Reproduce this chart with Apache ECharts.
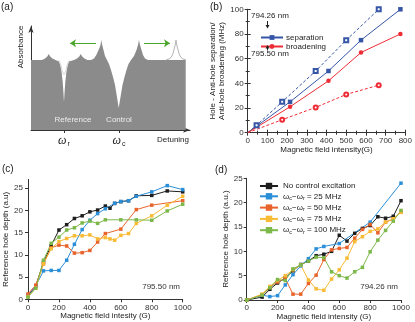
<!DOCTYPE html>
<html>
<head>
<meta charset="utf-8">
<script src="https://cdn.jsdelivr.net/npm/echarts@6/dist/echarts.min.js"></script>
<style>
html, body { margin: 0; padding: 0; background: #fff; }
#chart { width: 415px; height: 322px; }
</style>
</head>
<body>
<div id="chart"></div>
<script>
// (a) schematic absorption profile [detuning, absorbance]
const absProfile = [
  [31, 70], [42, 70], [45, 71.5], [47.3, 73.5], [48.7, 76], [50.2, 73.5], [52.5, 71.5], [55.5, 70],
  [57, 70], [59, 68.5], [60.5, 64], [61.7, 57], [62.7, 48], [63.4, 38], [64, 28], [64.6, 38], [65.3, 48], [66.3, 57], [67.5, 64], [69, 68.5], [71, 70],
  [74, 70], [77, 71.5], [79.3, 73.5], [80.7, 76], [82.2, 73.5], [84.5, 71.5], [87.5, 70],
  [91, 70], [94, 71.5], [96.3, 75], [99, 81], [100.5, 85], [101.3, 90], [102.2, 85], [103.5, 80], [105, 74], [107, 70],
  [109, 66], [111, 60], [113, 53], [115, 45], [116.5, 36], [118.7, 22], [121, 36], [122.5, 45], [124.5, 53], [126.5, 60], [128.5, 66], [131, 70],
  [134, 74], [136.5, 80], [138, 85], [139, 90], [140, 85], [141.5, 80], [143, 75], [145, 71.5], [148, 70],
  [185.7, 70], [185.7, 0]
]
const ghostHole = [[58.5, 70], [60, 67.5], [61.5, 62], [63, 57], [64, 55], [65, 57], [66.5, 62], [68, 67.5], [69.5, 70]]
const ghostPeak = [[166, 70], [170, 71.5], [172.5, 75], [174.2, 81], [175.2, 85], [176, 90], [176.8, 85], [177.8, 81], [179.5, 75], [182, 71.5], [186, 70]]
const shiftArrows = [[[96, 86.7], [70, 86.7]], [[144, 86.7], [170, 86.7]]]
const holeTicks = [64, 119]

// (b) separation / broadening vs field
const sepX = [0, 215, 410, 575, 775]
const sepY = [0, 25, 50, 75, 100]
const sep2X = [0, 45, 175, 345, 500, 665]
const sep2Y = [0, 6, 25, 50, 75, 100]
const broX = [0, 215, 410, 575, 775]
const broY = [0, 21, 42, 65, 80]
const bro2X = [0, 175, 345, 500, 665]
const bro2Y = [0, 10.5, 20.5, 31, 38.5]

// (c) 795.50 nm
const cBlackX = [0, 50, 100, 150, 200, 250, 300, 350, 400, 450, 500, 530, 560, 600, 650, 700, 800, 900, 1000]
const cBlackY = [0.8, 3.0, 8.3, 12.1, 15.6, 16.8, 18.2, 18.8, 19.7, 20.1, 21.0, 20.5, 21.6, 22.0, 22.2, 23.3, 23.4, 24.4, 24.2]
const cBlueX = [0, 50, 100, 150, 200, 250, 300, 350, 400, 450, 500, 560, 600, 650, 700, 800, 900, 1000]
const cBlueY = [1.0, 3.0, 6.4, 6.5, 6.5, 8.8, 12.4, 15.7, 17.8, 19.3, 20.4, 21.6, 22.0, 22.2, 23.2, 24.2, 25.6, 24.7]
const cRedX = [0, 50, 100, 150, 200, 250, 300, 350, 400, 450, 500, 600, 700, 800, 1000]
const cRedY = [1.2, 3.2, 8.0, 11.6, 12.2, 12.0, 10.4, 10.5, 11.0, 12.9, 14.8, 15.8, 20.2, 21.2, 22.2]
const cYellowX = [0, 50, 100, 150, 200, 250, 300, 350, 400, 450, 500, 530, 560, 600, 650, 700, 800, 900, 1000]
const cYellowY = [0.6, 2.5, 8.0, 11.4, 13.0, 13.7, 14.3, 14.3, 14.5, 13.6, 13.9, 13.6, 13.3, 14.4, 14.8, 17.1, 18.8, 21.2, 23.2]
const cGreenX = [0, 50, 100, 150, 200, 250, 300, 350, 400, 450, 500, 600, 700, 800, 900, 1000]
const cGreenY = [0.5, 2.5, 8.8, 12.6, 14.0, 15.6, 16.1, 17.2, 17.6, 17.1, 17.9, 17.9, 17.9, 17.8, 19.9, 21.4]

// (d) 794.26 nm
const dX = [0, 100, 150, 200, 250, 300, 350, 400, 450, 500, 550, 600, 650, 700, 750, 800, 850, 900, 950, 1000]
const dBlackY = [0, 0.6, 2.2, 3.5, 4.5, 6.0, 7.3, 8.0, 9.1, 9.4, 10.0, 13.3, 12.1, 13.7, 14.7, 15.3, 17.1, 16.8, 17.2, 20.4]
const dBlueX = [0, 100, 150, 200, 250, 300, 350, 400, 450, 500, 600, 800, 1000]
const dBlueY = [0, 1.0, 0.7, 0.9, 3.1, 5.2, 7.0, 8.5, 10.5, 11.0, 11.6, 16.0, 24.0]
const dRedY = [0, 1.1, 2.6, 3.7, 4.4, 1.2, 1.2, 3.4, 5.1, 8.3, 10.3, 10.6, 10.8, 12.7, 14.5, 15.5, 13.8, 16.0, 16.6, 18.1]
const dYellowY = [0, 1.2, 2.8, 4.0, 5.0, 6.2, 7.2, 4.1, 2.3, 2.0, 4.3, 6.2, 8.6, 12.0, 13.0, 14.1, 14.6, 16.0, 16.7, 18.0]
const dGreenY = [0, 1.0, 2.5, 4.2, 4.0, 6.4, 7.2, 8.0, 8.8, 8.7, 5.8, 5.0, 4.5, 5.8, 6.7, 9.9, 12.3, 14.3, 16.2, 18.4]

const dNames = ['No control excitation', 'wc-wr = 25 MHz', 'wc-wr = 50 MHz', 'wc-wr = 75 MHz', 'wc-wr = 100 MHz']
const lineColors = ['#1e1e1e', '#2a8fd8', '#e8642c', '#f7bb36', '#7cb84a']

const font = 'Liberation Sans'
const axisColor = '#333'

function zip(xs, ys) {
  return xs.map((x, i) => [x, ys[i]])
}
// line in (b) starts at the origin without a marker
function fromOrigin(xs, ys) {
  return xs.map((x, i) => (i === 0 ? { value: [x, ys[i]], symbol: 'none' } : [x, ys[i]]))
}

function dataAxis(gridIndex, min, max, interval, name, nameGap, extra) {
  return Object.assign({
    type: 'value',
    gridIndex: gridIndex,
    min: min,
    max: max,
    interval: interval,
    name: name,
    nameLocation: 'middle',
    nameGap: nameGap,
    nameTextStyle: { fontSize: 8, color: '#222', fontFamily: font },
    axisLine: { show: true, lineStyle: { color: axisColor, width: 1 } },
    axisTick: { show: true, length: 3, lineStyle: { color: axisColor } },
    axisLabel: { fontSize: 8, color: '#333', fontFamily: font, margin: 4, formatter: v => String(v) },
    splitLine: { show: false }
  }, extra || {})
}

function frameAxis(gridIndex, position, min, max, interval) {
  return {
    type: 'value',
    gridIndex: gridIndex,
    position: position,
    min: min,
    max: max,
    interval: interval,
    axisLine: { show: true, lineStyle: { color: axisColor } },
    axisTick: { show: true, inside: true, length: 3, lineStyle: { color: axisColor } },
    minorTick: { show: true, splitNumber: 2, length: 2, lineStyle: { color: axisColor } },
    axisLabel: { show: false },
    splitLine: { show: false }
  }
}

function dotLine(name, xi, yi, data, color) {
  return {
    name: name,
    type: 'line',
    xAxisIndex: xi,
    yAxisIndex: yi,
    data: data,
    symbol: 'rect',
    symbolSize: 3.5,
    color: color,
    lineStyle: { width: 1, color: color },
    itemStyle: { color: color },
    animation: false
  }
}

// small vertical arrow (annotation) pointing from y0 to y1
function vArrow(x, y0, y1) {
  const dir = y1 > y0 ? 1 : -1
  return [
    { type: 'line', z: 100, shape: { x1: x, y1: y0, x2: x, y2: y1 - dir * 2 }, style: { stroke: '#222', lineWidth: 1 } },
    { type: 'polygon', z: 100, shape: { points: [[x - 2, y1 - dir * 3.5], [x + 2, y1 - dir * 3.5], [x, y1]] }, style: { fill: '#222' } }
  ]
}

const subFmt = function (name) {
  if (name.indexOf('wc-wr') === 0) {
    return 'ω{s|c}−ω{s|r}' + name.slice(5)
  }
  return name
}

const chart = echarts.init(document.getElementById('chart'))

const option = {
  animation: false,
  textStyle: { fontFamily: font },
  grid: [
    { left: 31, top: 26, width: 159, height: 104 },
    { left: 247.7, top: 9.3, width: 164, height: 123.4 },
    { left: 28, top: 179.4, width: 154.7, height: 119.9 },
    { left: 246.7, top: 178.3, width: 154.3, height: 121.7 }
  ],
  xAxis: [
    {
      type: 'value', gridIndex: 0, min: 31, max: 190,
      axisLine: { show: true, symbol: ['none', 'arrow'], symbolSize: [4, 7], lineStyle: { color: axisColor } },
      axisTick: { show: true, customValues: holeTicks, length: 3, lineStyle: { color: axisColor } },
      axisLabel: {
        show: true, customValues: holeTicks, margin: 4,
        formatter: v => (v === holeTicks[0] ? '{w|ω}{s|r}' : '{w|ω}{s|c}'),
        rich: {
          w: { fontFamily: 'Liberation Serif', fontStyle: 'italic', fontSize: 12, color: '#222' },
          s: { fontFamily: font, fontSize: 7, color: '#222', padding: [7, 0, 0, 1] }
        }
      },
      splitLine: { show: false }
    },
    dataAxis(1, 0, 800, 100, 'Magnetic field intensity(G)', 12, {
      axisTick: { show: true, inside: true, length: 3, lineStyle: { color: axisColor } },
      minorTick: { show: true, splitNumber: 2, length: 2, lineStyle: { color: axisColor } }
    }),
    frameAxis(1, 'top', 0, 800, 100),
    dataAxis(2, 0, 1000, 200, 'Magnetic field intesity (G)', 12),
    dataAxis(3, 0, 1000, 200, 'Magnetic field intensity (G)', 11)
  ],
  yAxis: [
    {
      type: 'value', gridIndex: 0, min: 0, max: 104,
      axisLine: { show: true, symbol: ['none', 'arrow'], symbolSize: [4, 7], lineStyle: { color: axisColor } },
      axisTick: { show: false },
      axisLabel: { show: false },
      splitLine: { show: false }
    },
    dataAxis(1, 0, 100, 20, 'Hole - Anti-hole separation/\nAnti-hole broadening (MHz)', 19, {
      nameTextStyle: { fontSize: 8, color: '#222', fontFamily: font, lineHeight: 9 },
      axisTick: { show: true, inside: true, length: 3, lineStyle: { color: axisColor } },
      minorTick: { show: true, splitNumber: 2, length: 2, lineStyle: { color: axisColor } }
    }),
    frameAxis(1, 'right', 0, 100, 20),
    dataAxis(2, 0, 27, 5, 'Reference hole depth (a.u)', 13, {
      axisLabel: { fontSize: 8, color: '#333', fontFamily: font, margin: 5, showMaxLabel: false }
    }),
    dataAxis(3, 0, 25, 5, 'Reference hole depth (a.u.)', 13)
  ],
  legend: [
    {
      data: ['separation', 'broadening'],
      orient: 'vertical',
      left: 255, top: 28.5,
      itemGap: 1, itemWidth: 22, itemHeight: 6,
      textStyle: { fontSize: 8, color: '#222', fontFamily: font, padding: [0, 0, 0, -2] }
    },
    {
      data: dNames,
      orient: 'vertical',
      left: 254, top: 177,
      itemGap: 2.3, itemWidth: 18, itemHeight: 8,
      formatter: subFmt,
      textStyle: {
        fontSize: 8, color: '#222', fontFamily: font,
        rich: { s: { fontSize: 5.5, color: '#222', fontFamily: font, padding: [4, 0, 0, 0] } }
      }
    }
  ],
  graphic: [
    { type: 'text', left: 1, top: 2, style: { text: '(a)', fontSize: 10, fill: '#222', fontFamily: font } },
    { type: 'text', left: 210, top: 2, style: { text: '(b)', fontSize: 10, fill: '#222', fontFamily: font } },
    { type: 'text', left: 2, top: 164, style: { text: '(c)', fontSize: 10, fill: '#222', fontFamily: font } },
    { type: 'text', left: 215, top: 165, style: { text: '(d)', fontSize: 10, fill: '#222', fontFamily: font } },
    { type: 'text', x: 21, y: 47, rotation: Math.PI / 2, style: { text: 'Absorbance', fontSize: 8, fill: '#222', fontFamily: font, align: 'center', verticalAlign: 'middle' } },
    { type: 'text', x: 173, y: 140, style: { text: 'Detuning', fontSize: 8, fill: '#222', fontFamily: font, align: 'center', verticalAlign: 'middle' } },
    { type: 'text', x: 73, y: 120, z: 10, style: { text: 'Reference', fontSize: 8, fill: '#ececec', fontFamily: font, align: 'center', verticalAlign: 'middle' } },
    { type: 'text', x: 119, y: 120, z: 10, style: { text: 'Control', fontSize: 8, fill: '#ececec', fontFamily: font, align: 'center', verticalAlign: 'middle' } },
    { type: 'text', left: 251, top: 12, style: { text: '794.26 nm', fontSize: 8, fill: '#222', fontFamily: font } },
    { type: 'text', left: 251, top: 50, style: { text: '795.50 nm', fontSize: 8, fill: '#222', fontFamily: font } },
    { type: 'text', x: 180, y: 287, style: { text: '795.50 nm', fontSize: 8, fill: '#333', fontFamily: font, align: 'right', verticalAlign: 'middle' } },
    { type: 'text', x: 398, y: 287, style: { text: '794.26 nm', fontSize: 8, fill: '#333', fontFamily: font, align: 'right', verticalAlign: 'middle' } }
  ].concat(vArrow(267.5, 21, 28.5), vArrow(267.5, 50.5, 45)),
  series: [
    // (a)
    {
      name: 'profile', type: 'line', xAxisIndex: 0, yAxisIndex: 0,
      data: absProfile, symbol: 'none',
      lineStyle: { width: 0 },
      areaStyle: { color: '#8b8b8b', opacity: 1, origin: 'start' },
      z: 2
    },
    {
      name: 'ghost hole', type: 'line', xAxisIndex: 0, yAxisIndex: 0,
      data: ghostHole, symbol: 'none', smooth: 0.3,
      lineStyle: { width: 1, color: '#d4d4d4' }, z: 3
    },
    {
      name: 'ghost peak', type: 'line', xAxisIndex: 0, yAxisIndex: 0,
      data: ghostPeak, symbol: 'none',
      lineStyle: { width: 1, color: '#b4b4b4' }, z: 3
    },
    {
      name: 'shift', type: 'lines', coordinateSystem: 'cartesian2d', xAxisIndex: 0, yAxisIndex: 0,
      data: shiftArrows.map(c => ({ coords: c })),
      symbol: ['none', 'arrow'], symbolSize: 6,
      lineStyle: { color: '#4aa52a', width: 1.2, opacity: 1 }, z: 4
    },
    // (b)
    {
      name: 'separation', type: 'line', xAxisIndex: 1, yAxisIndex: 1,
      data: fromOrigin(sepX, sepY), symbol: 'rect', symbolSize: 4.5,
      color: '#3556a6', lineStyle: { width: 1, color: '#3556a6' }
    },
    {
      name: 'separation 794.26', type: 'line', xAxisIndex: 1, yAxisIndex: 1,
      data: fromOrigin(sep2X, sep2Y), symbol: 'emptyRect', symbolSize: 4,
      color: '#3556a6', lineStyle: { width: 1, type: [3, 2], color: '#3556a6' },
      itemStyle: { borderWidth: 1 }
    },
    {
      name: 'broadening', type: 'line', xAxisIndex: 1, yAxisIndex: 1,
      data: fromOrigin(broX, broY), symbol: 'circle', symbolSize: 4.5,
      color: '#ee2c36', lineStyle: { width: 1, color: '#ee2c36' }
    },
    {
      name: 'broadening 794.26', type: 'line', xAxisIndex: 1, yAxisIndex: 1,
      data: fromOrigin(bro2X, bro2Y), symbol: 'emptyCircle', symbolSize: 4,
      color: '#ee2c36', lineStyle: { width: 1, type: [3, 2], color: '#ee2c36' },
      itemStyle: { borderWidth: 1 }
    },
    // (c)
    dotLine('c0', 3, 3, zip(cBlackX, cBlackY), lineColors[0]),
    dotLine('c1', 3, 3, zip(cBlueX, cBlueY), lineColors[1]),
    dotLine('c2', 3, 3, zip(cRedX, cRedY), lineColors[2]),
    dotLine('c3', 3, 3, zip(cYellowX, cYellowY), lineColors[3]),
    dotLine('c4', 3, 3, zip(cGreenX, cGreenY), lineColors[4]),
    // (d)
    dotLine(dNames[0], 4, 4, zip(dX, dBlackY), lineColors[0]),
    dotLine(dNames[1], 4, 4, zip(dBlueX, dBlueY), lineColors[1]),
    dotLine(dNames[2], 4, 4, zip(dX, dRedY), lineColors[2]),
    dotLine(dNames[3], 4, 4, zip(dX, dYellowY), lineColors[3]),
    dotLine(dNames[4], 4, 4, zip(dX, dGreenY), lineColors[4])
  ]
}

chart.setOption(option)
</script>
</body>
</html>
